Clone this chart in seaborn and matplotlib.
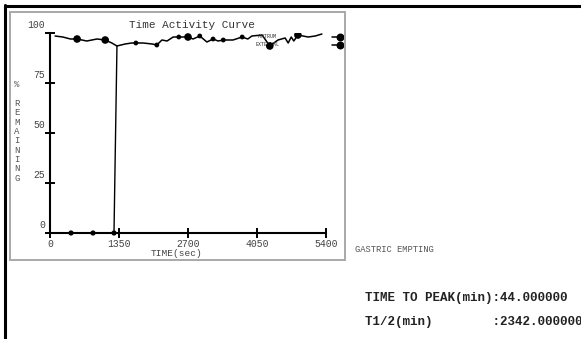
import numpy as np
import matplotlib
matplotlib.use("Agg")
import matplotlib.pyplot as plt
import seaborn as sns
from matplotlib.lines import Line2D
from matplotlib.patches import Rectangle

# main time activity curve (sec, % remaining)
curve_t = [100, 250, 400, 530, 720, 920, 1080, 1210, 1310, 1470, 1600, 1680, 1820,
           2000, 2090, 2190, 2290, 2410, 2520, 2700, 2800, 2930, 3070, 3190, 3290,
           3390, 3580, 3760, 3870, 3950, 4150, 4300, 4460, 4600, 4660, 4720, 4770,
           4850, 5050, 5190, 5320]
curve_v = [98.5, 98, 97, 97, 96, 97, 96.5, 95, 93.5, 94.5, 95, 95, 95,
           94.5, 94, 96.5, 96, 98, 98, 98, 97, 98.5, 95.5, 97, 96,
           96.5, 96.5, 98, 97, 98.5, 99, 93.5, 96.5, 97.5, 95, 98, 96,
           99, 98, 98.5, 99.5]

# frames marked with dots
big_dot_t = [530, 1080, 2700, 4300, 4850]
big_dot_v = [97, 96.5, 98, 93.5, 99]
small_dot_t = [1680, 2090, 2520, 2930, 3190, 3390, 3760]
small_dot_v = [95, 94, 98, 98.5, 97, 96.5, 98]

# early frames at zero, then jump up
drop_t = [0, 411, 841, 1252, 1310]
drop_v = [0, 0, 0, 0, 93.5]
drop_dot_t = [411, 841, 1252]
drop_dot_v = [0, 0, 0]

# key markers right of the axis
key_t = [5520, 5680]
key_top_v = [98, 98]
key_bot_v = [94, 94]
key_names = ["ANTRUM", "EXTERNAL"]

x_ticks = [0, 1350, 2700, 4050, 5400]
y_ticks = [0, 25, 50, 75, 100]

title = "Time Activity Curve"
x_label = "TIME(sec)"
y_label = "% REMAINING"
study = "GASTRIC EMPTING"
result_lines = ["TIME TO PEAK(min):44.000000",
                "T1/2(min)        :2342.000000"]

sns.set_theme(style="white")
plt.rcParams["font.family"] = ["Liberation Mono", "DejaVu Sans Mono"]

W, H = 581, 339
fig = plt.figure(figsize=(W / 100, H / 100), dpi=100)
fig.patch.set_facecolor("white")

# outer frame lines (left + top) and inner grey panel
fig.add_artist(Line2D([5 / W, 5 / W], [0, 1 - 5 / H], color="black", lw=2.2))
fig.add_artist(Line2D([5 / W, 1], [1 - 6 / H, 1 - 6 / H], color="black", lw=2.2))
fig.add_artist(Rectangle((10 / W, 1 - 260 / H), 335 / W, 248 / H, fill=False,
                         edgecolor="#a8a8a8", lw=1.4))

ax = fig.add_axes([50 / W, (H - 233) / H, 276 / W, 200 / H])
ax.set_facecolor("white")

sns.lineplot(x=drop_t, y=drop_v, ax=ax, color="black", lw=1.0, sort=False,
             estimator=None)
sns.scatterplot(x=drop_dot_t, y=drop_dot_v, ax=ax, color="black", s=14,
                edgecolor="none", clip_on=False, zorder=5)
sns.lineplot(x=curve_t, y=curve_v, ax=ax, color="black", lw=1.1, sort=False,
             estimator=None)
sns.scatterplot(x=big_dot_t, y=big_dot_v, ax=ax, color="black", s=30,
                edgecolor="none", zorder=5)
sns.scatterplot(x=small_dot_t, y=small_dot_v, ax=ax, color="black", s=12,
                edgecolor="none", zorder=5)
for vals in (key_top_v, key_bot_v):
    ax.plot(key_t, vals, color="black", lw=1.1, clip_on=False)
    ax.scatter(key_t[-1:], vals[-1:], color="black", s=22, clip_on=False, zorder=5)
for name, v in zip(key_names, [key_top_v[0], key_bot_v[0]]):
    ax.text(4250, v, name, fontsize=3.6, ha="center", va="center", color="#333")

ax.set_xlim(0, 5400)
ax.set_ylim(0, 100)
for s in ["top", "right"]:
    ax.spines[s].set_visible(False)
for s in ["left", "bottom"]:
    ax.spines[s].set_color("black")
    ax.spines[s].set_linewidth(1.5)

ax.set_xticks(x_ticks)
ax.set_xticklabels([str(t) for t in x_ticks])
ax.set_yticks(y_ticks)
ax.set_yticklabels([])
ax.tick_params(axis="both", direction="inout", length=7.2, width=1.4,
               color="black", bottom=True, left=True)
ax.tick_params(axis="x", labelsize=7, labelcolor="#444", pad=1)
for v in y_ticks:
    ax.annotate(str(v), xy=(0, v), xycoords=("axes fraction", "data"),
                xytext=(-3.5, 2.5), textcoords="offset points", ha="right",
                va="bottom", fontsize=7, color="#444")

ax.annotate(title, xy=(0.514, 1), xycoords="axes fraction", xytext=(0, 2.5),
            textcoords="offset points", ha="center", va="bottom", fontsize=7.9,
            color="#333")
ax.text(0.46, -0.10, x_label, transform=ax.transAxes, ha="center", va="center",
        fontsize=6.8, color="#444")

# vertical stacked axis title
letters = "%\n\n" + "\n".join(y_label.split(" ")[1])
fig.text(17 / W, 1 - 131.5 / H, letters, ha="center", va="center", fontsize=6.5,
         linespacing=1.05, color="#555")

fig.text(355 / W, 1 - 250 / H, study, ha="left", va="center", fontsize=6.3,
         color="#555")
for i, line in enumerate(result_lines):
    fig.text(365 / W, 1 - (298 + 24 * i) / H, line, ha="left", va="center",
             fontsize=9, fontweight="bold", color="#222")

fig.savefig("out.png", dpi=100)
